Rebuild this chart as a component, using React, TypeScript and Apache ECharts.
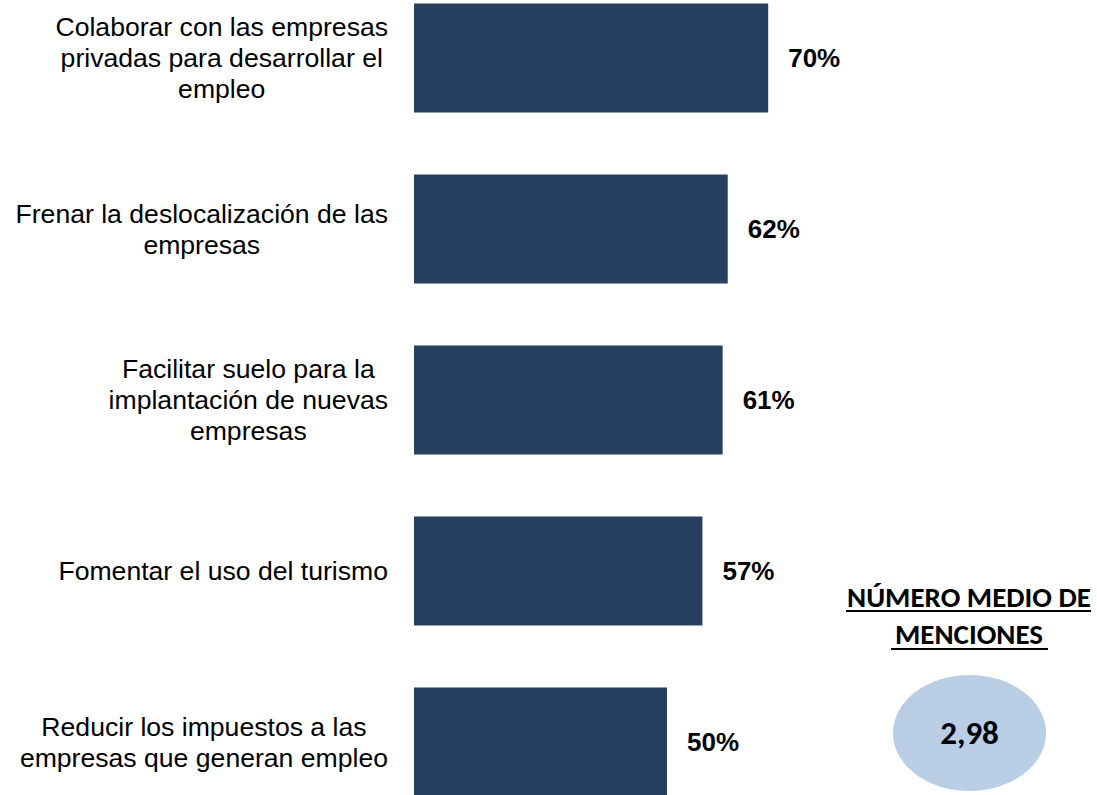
import React, { useEffect, useRef } from "react";
import * as echarts from "echarts";

const categories: string[] = [
  "Colaborar con las empresas\nprivadas para desarrollar el\nempleo",
  "Frenar la deslocalización de las\nempresas",
  "Facilitar suelo para la\nimplantación de nuevas\nempresas",
  "Fomentar el uso del turismo",
  "Reducir los impuestos a las\nempresas que generan empleo",
];
const values: number[] = [70, 62, 61, 57, 50];
const headerLines: string[] = ["NÚMERO MEDIO DE", "MENCIONES"];
const averageMentions = "2,98";

const OFF = 28;

export default function App() {
  const ref = useRef<HTMLDivElement>(null);
  useEffect(() => {
    if (!ref.current) return;
    const chart = echarts.init(ref.current, undefined, { renderer: "svg" });
    const font = "'Liberation Sans', Arial, sans-serif";
    const hFont = "Carlito, Calibri, Lato, sans-serif";
    chart.setOption({
      animation: false,
      backgroundColor: "#ffffff",
      grid: { left: 414, width: 506, top: 0.5, height: 855, containLabel: false },
      xAxis: {
        type: "value",
        min: 0,
        max: 100,
        show: false,
      },
      yAxis: {
        type: "category",
        inverse: true,
        data: categories,
        axisLine: { show: false },
        axisTick: { show: false },
        splitLine: { show: false },
        axisLabel: {
          align: "right",
          margin: 26,
          formatter: (v: string) => `{a|${v}}`,
          rich: {
            a: {
              align: "center",
              fontFamily: font,
              fontSize: 26.6,
              lineHeight: 31,
              color: "#000000",
            },
          },
        },
      },
      series: [
        {
          type: "bar",
          data: values,
          barWidth: 109,
          itemStyle: { color: "#274060" },
          label: {
            show: true,
            position: "right",
            distance: 20,
            formatter: "{c}%",
            fontFamily: font,
            fontWeight: "bold",
            fontSize: 26,
            color: "#000000",
          },
        },
      ],
      graphic: [
        {
          type: "text",
          x: 969,
          y: 597 + OFF,
          style: {
            text: headerLines[0],
            fontFamily: hFont,
            fontWeight: "bold",
            fontSize: 29,
            fill: "#000000",
            align: "center",
            verticalAlign: "middle",
          },
        },
        {
          type: "text",
          x: 969,
          y: 634 + OFF,
          style: {
            text: headerLines[1],
            fontFamily: hFont,
            fontWeight: "bold",
            fontSize: 29,
            fill: "#000000",
            align: "center",
            verticalAlign: "middle",
          },
        },
        {
          type: "line",
          shape: { x1: 846, y1: 611 + OFF, x2: 1091, y2: 611 + OFF },
          style: { stroke: "#000000", lineWidth: 2 },
        },
        {
          type: "line",
          shape: { x1: 891, y1: 649 + OFF, x2: 1048, y2: 649 + OFF },
          style: { stroke: "#000000", lineWidth: 2 },
        },
        {
          type: "ellipse",
          shape: { cx: 969.5, cy: 733 + OFF, rx: 76.5, ry: 58 },
          style: { fill: "#b9cde5" },
        },
        {
          type: "text",
          x: 969.5,
          y: 733 + OFF,
          style: {
            text: averageMentions,
            fontFamily: hFont,
            fontWeight: "bold",
            fontSize: 33,
            fill: "#000000",
            align: "center",
            verticalAlign: "middle",
          },
        },
      ],
    });
    return () => chart.dispose();
  }, []);
  return (
    <div
      style={{
        position: "fixed",
        left: 0,
        top: 0,
        width: 1097,
        height: 795,
        overflow: "hidden",
        background: "#ffffff",
      }}
    >
      <div
        ref={ref}
        style={{ position: "absolute", left: 0, top: -OFF, width: 1097, height: 860 }}
      />
    </div>
  );
}
